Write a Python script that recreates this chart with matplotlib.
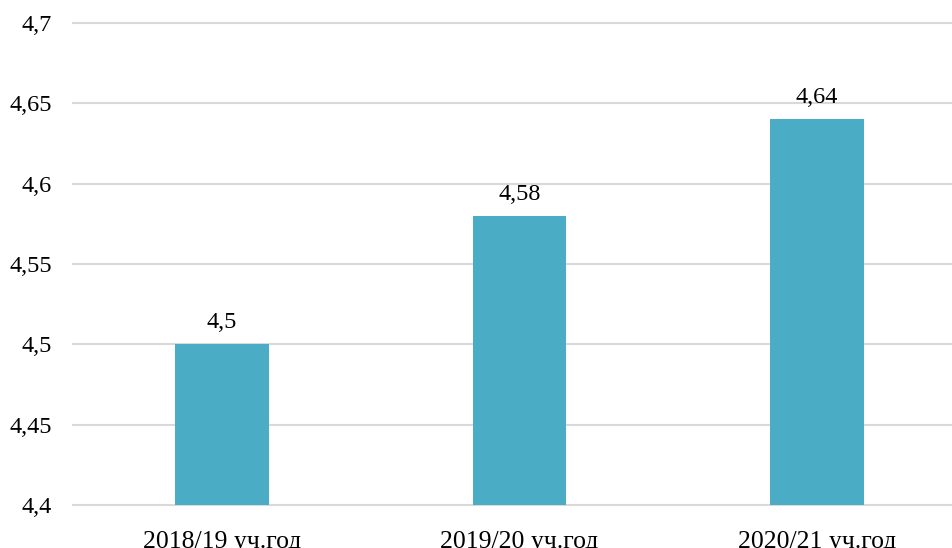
import matplotlib.pyplot as plt

plt.rcParams['font.family'] = ['Liberation Serif', 'DejaVu Serif']

# данные
years = ['2018/19 уч.год', '2019/20 уч.год', '2020/21 уч.год']
scores = [4.5, 4.58, 4.64]
yticks = [4.4, 4.45, 4.5, 4.55, 4.6, 4.65, 4.7]

fig = plt.figure(figsize=(9.53, 5.48), dpi=100)
ax = fig.add_axes([73 / 953, 1 - 505 / 548, 1 - 73 / 953, (505 - 23) / 548])

x = range(len(years))
ax.bar(x, scores, width=0.315, color='#4BACC6', zorder=3)

for i, v in enumerate(scores):
    ax.annotate(str(v).replace('.', ','), (i, v), xytext=(0, 8),
                textcoords='offset points', ha='center', va='bottom', fontsize=17.5)

ax.set_ylim(4.4, 4.7)
ax.set_xlim(-0.5008, 2.457)
ax.set_yticks(yticks)
ax.set_yticklabels([('%g' % t).replace('.', ',') for t in yticks], fontsize=17.5)
ax.set_xticks(list(x))
ax.set_xticklabels(years, fontsize=18.5)
ax.tick_params(axis='both', length=0)
ax.tick_params(axis='y', pad=15)
ax.tick_params(axis='x', pad=19)

ax.grid(axis='y', color='#D9D9D9', linewidth=1.5, zorder=0)
for gl in ax.get_ygridlines():
    gl.set_clip_on(False)
for s in ax.spines.values():
    s.set_visible(False)

fig.savefig('out.png', dpi=100)
